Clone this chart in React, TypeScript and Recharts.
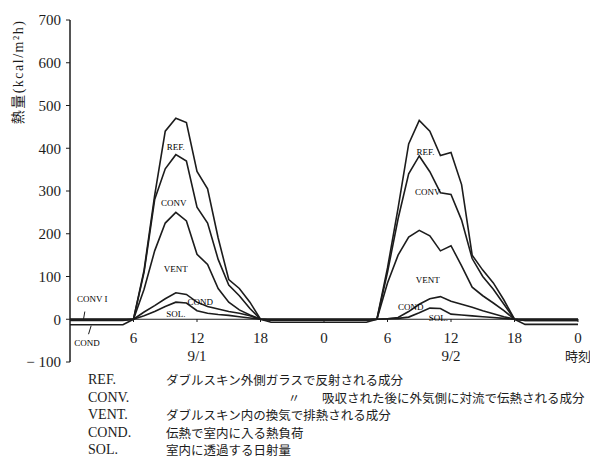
import React from 'react';
import { LineChart, Line, XAxis, YAxis, ReferenceLine, ReferenceDot } from 'recharts';

// hour index 0..48 (9/1 0:00 .. 9/3 0:00)
const hours: number[] = Array.from({ length: 49 }, (_, i) => i);

const refValues: number[] = [
  0, 0, 0, 0, 0, 0,
  0, 115, 290, 440, 470, 460, 346, 305, 190, 93, 72, 40, 0,
  0, 0, 0, 0, 0, 0, 0, 0, 0, 0,
  0, 120, 260, 410, 465, 440, 383, 390, 315, 150, 115, 85, 45, 0,
  0, 0, 0, 0, 0, 0,
];
const convValues: number[] = [
  -3, -3, -3, -3, -3, -3,
  0, 110, 280, 352, 385, 370, 262, 225, 140, 80, 55, 25, 0,
  -2, -2, -2, -2, -2, -2, -2, -2, -2, -2,
  0, 110, 235, 340, 382, 345, 296, 292, 232, 142, 100, 70, 35, 0,
  -3, -3, -3, -3, -3, -3,
];
const ventValues: number[] = [
  -2, -2, -2, -2, -2, -2,
  0, 70, 160, 225, 250, 230, 152, 128, 72, 40, 22, 10, 0,
  -2, -2, -2, -2, -2, -2, -2, -2, -2, -2,
  0, 85, 150, 192, 208, 195, 160, 172, 125, 75, 55, 38, 20, 0,
  -3, -3, -3, -3, -3, -3,
];
const condValues: number[] = [
  -13, -13, -13, -13, -13, -13,
  0, 17, 32, 48, 62, 58, 40, 30, 24, 18, 14, 8, 0,
  -7, -7, -7, -7, -7, -7, -7, -7, -7, -7,
  0, 1, 4, 18, 35, 48, 53, 42, 35, 28, 20, 13, 6, 0,
  -12, -12, -12, -12, -12, -12,
];
const solValues: number[] = [
  0, 0, 0, 0, 0, 0,
  0, 8, 18, 30, 40, 38, 20, 14, 11, 9, 6, 3, 0,
  0, 0, 0, 0, 0, 0, 0, 0, 0, 0,
  0, 1, 2, 5, 15, 26, 25, 12, 10, 8, 6, 4, 2, 0,
  0, 0, 0, 0, 0, 0,
];

const xTicks: number[] = [6, 12, 18, 24, 30, 36, 42, 48];
const yTicks: number[] = [-100, 0, 100, 200, 300, 400, 500, 600, 700];
const dateLabels: Record<number, string> = { 12: '9/1', 36: '9/2', 48: '時刻' };

const annotations = [
  { h: 10.0, v: 404, text: 'REF.' },
  { h: 9.8, v: 273, text: 'CONV' },
  { h: 10.0, v: 117, text: 'VENT' },
  { h: 12.3, v: 40, text: 'COND' },
  { h: 10.0, v: 12, text: 'SOL.' },
  { h: 33.6, v: 392, text: 'REF.' },
  { h: 33.8, v: 299, text: 'CONV' },
  { h: 33.8, v: 93, text: 'VENT' },
  { h: 32.2, v: 28, text: 'COND' },
  { h: 34.8, v: 3, text: 'SOL.' },
  { h: 2.1, v: 47, text: 'CONV I' },
  { h: 1.6, v: -54, text: 'COND' },
];

const leaders = [
  [{ x: 1.4, y: 18 }, { x: 1.25, y: -4 }],
  [{ x: 1.75, y: -35 }, { x: 2.0, y: -15 }],
];

const legendRows = [
  { abbr: 'REF.', ditto: '', desc: 'ダブルスキン外側ガラスで反射される成分' },
  { abbr: 'CONV.', ditto: '〃', desc: '吸収された後に外気側に対流で伝熱される成分' },
  { abbr: 'VENT.', ditto: '', desc: 'ダブルスキン内の換気で排熱される成分' },
  { abbr: 'COND.', ditto: '', desc: '伝熱で室内に入る熱負荷' },
  { abbr: 'SOL.', ditto: '', desc: '室内に透過する日射量' },
];

const data = hours.map((h, i) => ({
  h,
  REF: refValues[i],
  CONV: convValues[i],
  VENT: ventValues[i],
  COND: condValues[i],
  SOL: solValues[i],
}));

const SERIF = '"Liberation Serif", "DejaVu Serif", "Noto Sans CJK JP", serif';
const CJK = '"Noto Sans CJK JP", "Liberation Serif", serif';
const INK = '#1c1c1c';

const HourTick = (props: any) => {
  const { x, y, payload } = props;
  const h = payload.value as number;
  const extra = dateLabels[h];
  return (
    <g>
      <line x1={x} x2={x} y1={y - 43} y2={y - 40} stroke={INK} strokeWidth={1} />
      <text x={x} y={y - 19} textAnchor="middle" fontSize={15} fontFamily={SERIF} fill={INK}>
        {String(h % 24)}
      </text>
      {extra ? (
        <text
          x={x}
          y={y - 1}
          textAnchor="middle"
          fontSize={h === 48 ? 13 : 15}
          fontFamily={h === 48 ? CJK : SERIF}
          fill={INK}
        >
          {extra}
        </text>
      ) : null}
    </g>
  );
};

const yFmt = (v: number) => (v < 0 ? '− ' + Math.abs(v) : String(v));

const YLabel = () => (
  <text
    x={18}
    y={72}
    transform="rotate(-90, 18, 72)"
    textAnchor="middle"
    dominantBaseline="central"
    fontSize={14}
    fontFamily={SERIF}
    letterSpacing={1.5}
    fill={INK}
  >
    熱量(kcal/m²h)
  </text>
);

export default function App() {
  const series = ['REF', 'CONV', 'VENT', 'COND', 'SOL'];
  return (
    <div style={{ position: 'absolute', left: 0, top: 0, width: 590, height: 458, background: '#fff', overflow: 'hidden' }}>
      <LineChart width={590} height={458} data={data} margin={{ top: 20, right: 12, left: 0, bottom: 66 }}>
        <XAxis
          type="number"
          dataKey="h"
          domain={[0, 48]}
          ticks={xTicks}
          interval={0}
          axisLine={false}
          tickLine={false}
          tickSize={0}
          tickMargin={0}
          height={30}
          tick={HourTick}
        />
        <YAxis
          type="number"
          domain={[-100, 700]}
          ticks={yTicks}
          interval={0}
          width={70}
          tickSize={4}
          tickMargin={5}
          tickFormatter={yFmt}
          axisLine={{ stroke: INK, strokeWidth: 1.5 }}
          tickLine={{ stroke: INK, strokeWidth: 1 }}
          tick={{ fontSize: 15, fontFamily: SERIF, fill: INK }}
          label={{ content: YLabel }}
        />
        <ReferenceLine y={0} stroke={INK} strokeWidth={1} />
        {series.map((k) => (
          <Line
            key={k}
            type="linear"
            dataKey={k}
            stroke={INK}
            strokeWidth={1.6}
            dot={false}
            isAnimationActive={false}
          />
        ))}
        {leaders.map((seg, i) => (
          <ReferenceLine key={'ld' + i} segment={seg} stroke={INK} strokeWidth={1} />
        ))}
        {annotations.map((a, i) => (
          <ReferenceDot
            key={'an' + i}
            x={a.h}
            y={a.v}
            r={0}
            stroke="none"
            fill="none"
            label={{ value: a.text, position: 'center', fontSize: 9, fontFamily: SERIF, fill: '#000' }}
          />
        ))}
      </LineChart>
      {legendRows.map((r, i) => (
        <div
          key={r.abbr}
          style={{ position: 'absolute', left: 0, top: 372 + i * 17.5, width: 590, height: 15, lineHeight: '15px', color: INK, whiteSpace: 'nowrap' }}
        >
          <span style={{ position: 'absolute', left: 88, top: 0, fontFamily: SERIF, fontSize: 14 }}>{r.abbr}</span>
          {r.ditto ? (
            <span style={{ position: 'absolute', left: 288, top: 0, fontFamily: CJK, fontSize: 12 }}>{r.ditto}</span>
          ) : null}
          <span style={{ position: 'absolute', left: r.ditto ? 322 : 166, top: 0, fontFamily: CJK, fontSize: 12.5 }}>{r.desc}</span>
        </div>
      ))}
    </div>
  );
}
